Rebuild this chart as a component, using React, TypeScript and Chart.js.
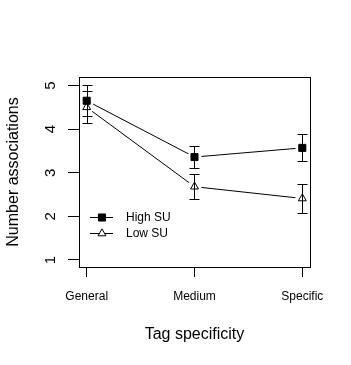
import React, { useEffect, useRef } from 'react';
import { Chart, registerables } from 'chart.js';
import { drawPoint } from 'chart.js/helpers';

Chart.register(...registerables);

const categories = ['General', 'Medium', 'Specific'];
const yTicks = [1, 2, 3, 4, 5];
const highSU = [4.65, 3.36, 3.57];
const highSUErr = [0.36, 0.26, 0.31];
const lowSU = [4.5, 2.68, 2.41];
const lowSUErr = [0.37, 0.28, 0.34];
const seriesLabels = ['High SU', 'Low SU'];

const FONT = "'Liberation Sans', Arial, Helvetica, sans-serif";

const toXY = (vals: number[]) => vals.map((v, i) => ({ x: i, y: v }));

export default function App() {
  const ref = useRef<HTMLCanvasElement | null>(null);

  useEffect(() => {
    if (!ref.current) return;

    const errorBars = {
      id: 'errorBars',
      afterDatasetsDraw(chart: any) {
        const ctx = chart.ctx;
        const xs = chart.scales.x;
        const ys = chart.scales.y;
        const sets: [number[], number[]][] = [
          [highSU, highSUErr],
          [lowSU, lowSUErr],
        ];
        ctx.save();
        ctx.strokeStyle = '#000';
        ctx.lineWidth = 1;
        sets.forEach(([vals, errs]) => {
          vals.forEach((v, i) => {
            const x = Math.round(xs.getPixelForValue(i)) + 0.5;
            const y1 = Math.round(ys.getPixelForValue(v + errs[i])) + 0.5;
            const y2 = Math.round(ys.getPixelForValue(v - errs[i])) + 0.5;
            const cap = 5;
            ctx.beginPath();
            ctx.moveTo(x, y1);
            ctx.lineTo(x, y2);
            ctx.moveTo(x - cap, y1);
            ctx.lineTo(x + cap, y1);
            ctx.moveTo(x - cap, y2);
            ctx.lineTo(x + cap, y2);
            ctx.stroke();
          });
        });
        ctx.restore();
      },
    };

    const boxAndLegend = {
      id: 'boxAndLegend',
      afterDraw(chart: any) {
        const ctx = chart.ctx;
        const a = chart.chartArea;
        ctx.save();
        ctx.strokeStyle = '#000';
        ctx.lineWidth = 1;
        ctx.strokeRect(Math.round(a.left) + 0.5, Math.round(a.top) + 0.5, Math.round(a.right - a.left), Math.round(a.bottom - a.top));
        const styles = [
          { pointStyle: 'rect', radius: 5, fill: '#000' },
          { pointStyle: 'triangle', radius: 4.6, fill: '#fff' },
        ];
        ctx.font = `12px ${FONT}`;
        ctx.textBaseline = 'middle';
        ctx.textAlign = 'left';
        seriesLabels.forEach((lab, i) => {
          const y = Math.round(a.bottom - 50 + i * 16) + 0.5;
          const x0 = a.left + 11;
          ctx.strokeStyle = '#000';
          ctx.beginPath();
          ctx.moveTo(x0, y);
          ctx.lineTo(x0 + 23, y);
          ctx.stroke();
          ctx.fillStyle = styles[i].fill;
          ctx.strokeStyle = '#000';
          drawPoint(ctx, { pointStyle: styles[i].pointStyle as any, radius: styles[i].radius, rotation: 0, borderWidth: 1 }, x0 + 12, y);
          ctx.fillStyle = '#000';
          ctx.fillText(lab, x0 + 36, y);
        });
        ctx.restore();
      },
    };

    const chart = new Chart(ref.current, {
      type: 'scatter',
      data: {
        datasets: [
          { label: 'lineHigh', data: toXY(highSU), showLine: true, borderColor: '#000', borderWidth: 1, pointRadius: 0, order: 3 },
          { label: 'lineLow', data: toXY(lowSU), showLine: true, borderColor: '#000', borderWidth: 1, pointRadius: 0, order: 3 },
          { label: 'gapHigh', data: toXY(highSU), showLine: false, pointStyle: 'circle', pointRadius: 7, backgroundColor: '#fff', borderWidth: 0, pointBorderWidth: 0, order: 2 },
          { label: 'gapLow', data: toXY(lowSU), showLine: false, pointStyle: 'circle', pointRadius: 7, backgroundColor: '#fff', borderWidth: 0, pointBorderWidth: 0, order: 2 },
          { label: seriesLabels[0], data: toXY(highSU), showLine: false, pointStyle: 'rect', pointRadius: 5, backgroundColor: '#000', borderColor: '#000', borderWidth: 1, order: 1 },
          { label: seriesLabels[1], data: toXY(lowSU), showLine: false, pointStyle: 'triangle', pointRadius: 4.6, backgroundColor: '#fff', borderColor: '#000', borderWidth: 1, order: 1 },
        ],
      },
      options: {
        responsive: false,
        animation: false,
        events: [],
        layout: { padding: { top: 77, right: 41, left: 0, bottom: 0 } },
        plugins: { legend: { display: false }, tooltip: { enabled: false }, title: { display: false } },
        scales: {
          x: {
            type: 'linear',
            min: -0.0714,
            max: 2.0714,
            afterFit(scale: any) { scale.height = 98; },
            afterBuildTicks(scale: any) { scale.ticks = categories.map((_, i) => ({ value: i })); },
            grid: { drawOnChartArea: false, drawTicks: true, tickLength: 10, color: '#000', tickColor: '#000' },
            border: { display: true, color: '#000' },
            ticks: {
              autoSkip: false,
              maxRotation: 0,
              minRotation: 0,
              padding: 12,
              color: '#000',
              font: { family: FONT, size: 12 },
              callback: (v: any) => categories[v as number] ?? '',
            },
            title: { display: true, text: 'Tag specificity', color: '#000', font: { family: FONT, size: 16 }, padding: { top: 0, bottom: 21 } },
          },
          y: {
            type: 'linear',
            min: 0.8395,
            max: 5.1945,
            afterFit(scale: any) { scale.width = 79; },
            afterBuildTicks(scale: any) { scale.ticks = yTicks.map((v) => ({ value: v })); },
            grid: { drawOnChartArea: false, drawTicks: true, tickLength: 11, color: '#000', tickColor: '#000' },
            border: { display: true, color: '#000' },
            ticks: {
              minRotation: 90,
              maxRotation: 90,
              crossAlign: 'center',
              padding: 13,
              color: '#000',
              font: { family: FONT, size: 15 },
              callback: (v: any) => String(v),
            },
            title: { display: true, text: 'Number associations', color: '#000', font: { family: FONT, size: 16 }, padding: { top: 4, bottom: 0 } },
          },
        },
      },
      plugins: [errorBars, boxAndLegend],
    });

    return () => chart.destroy();
  }, []);

  return (
    <div style={{ position: 'absolute', left: 0, top: 0, width: 351, height: 365 }}>
      <canvas ref={ref} width={351} height={365} style={{ display: 'block' }} />
    </div>
  );
}
